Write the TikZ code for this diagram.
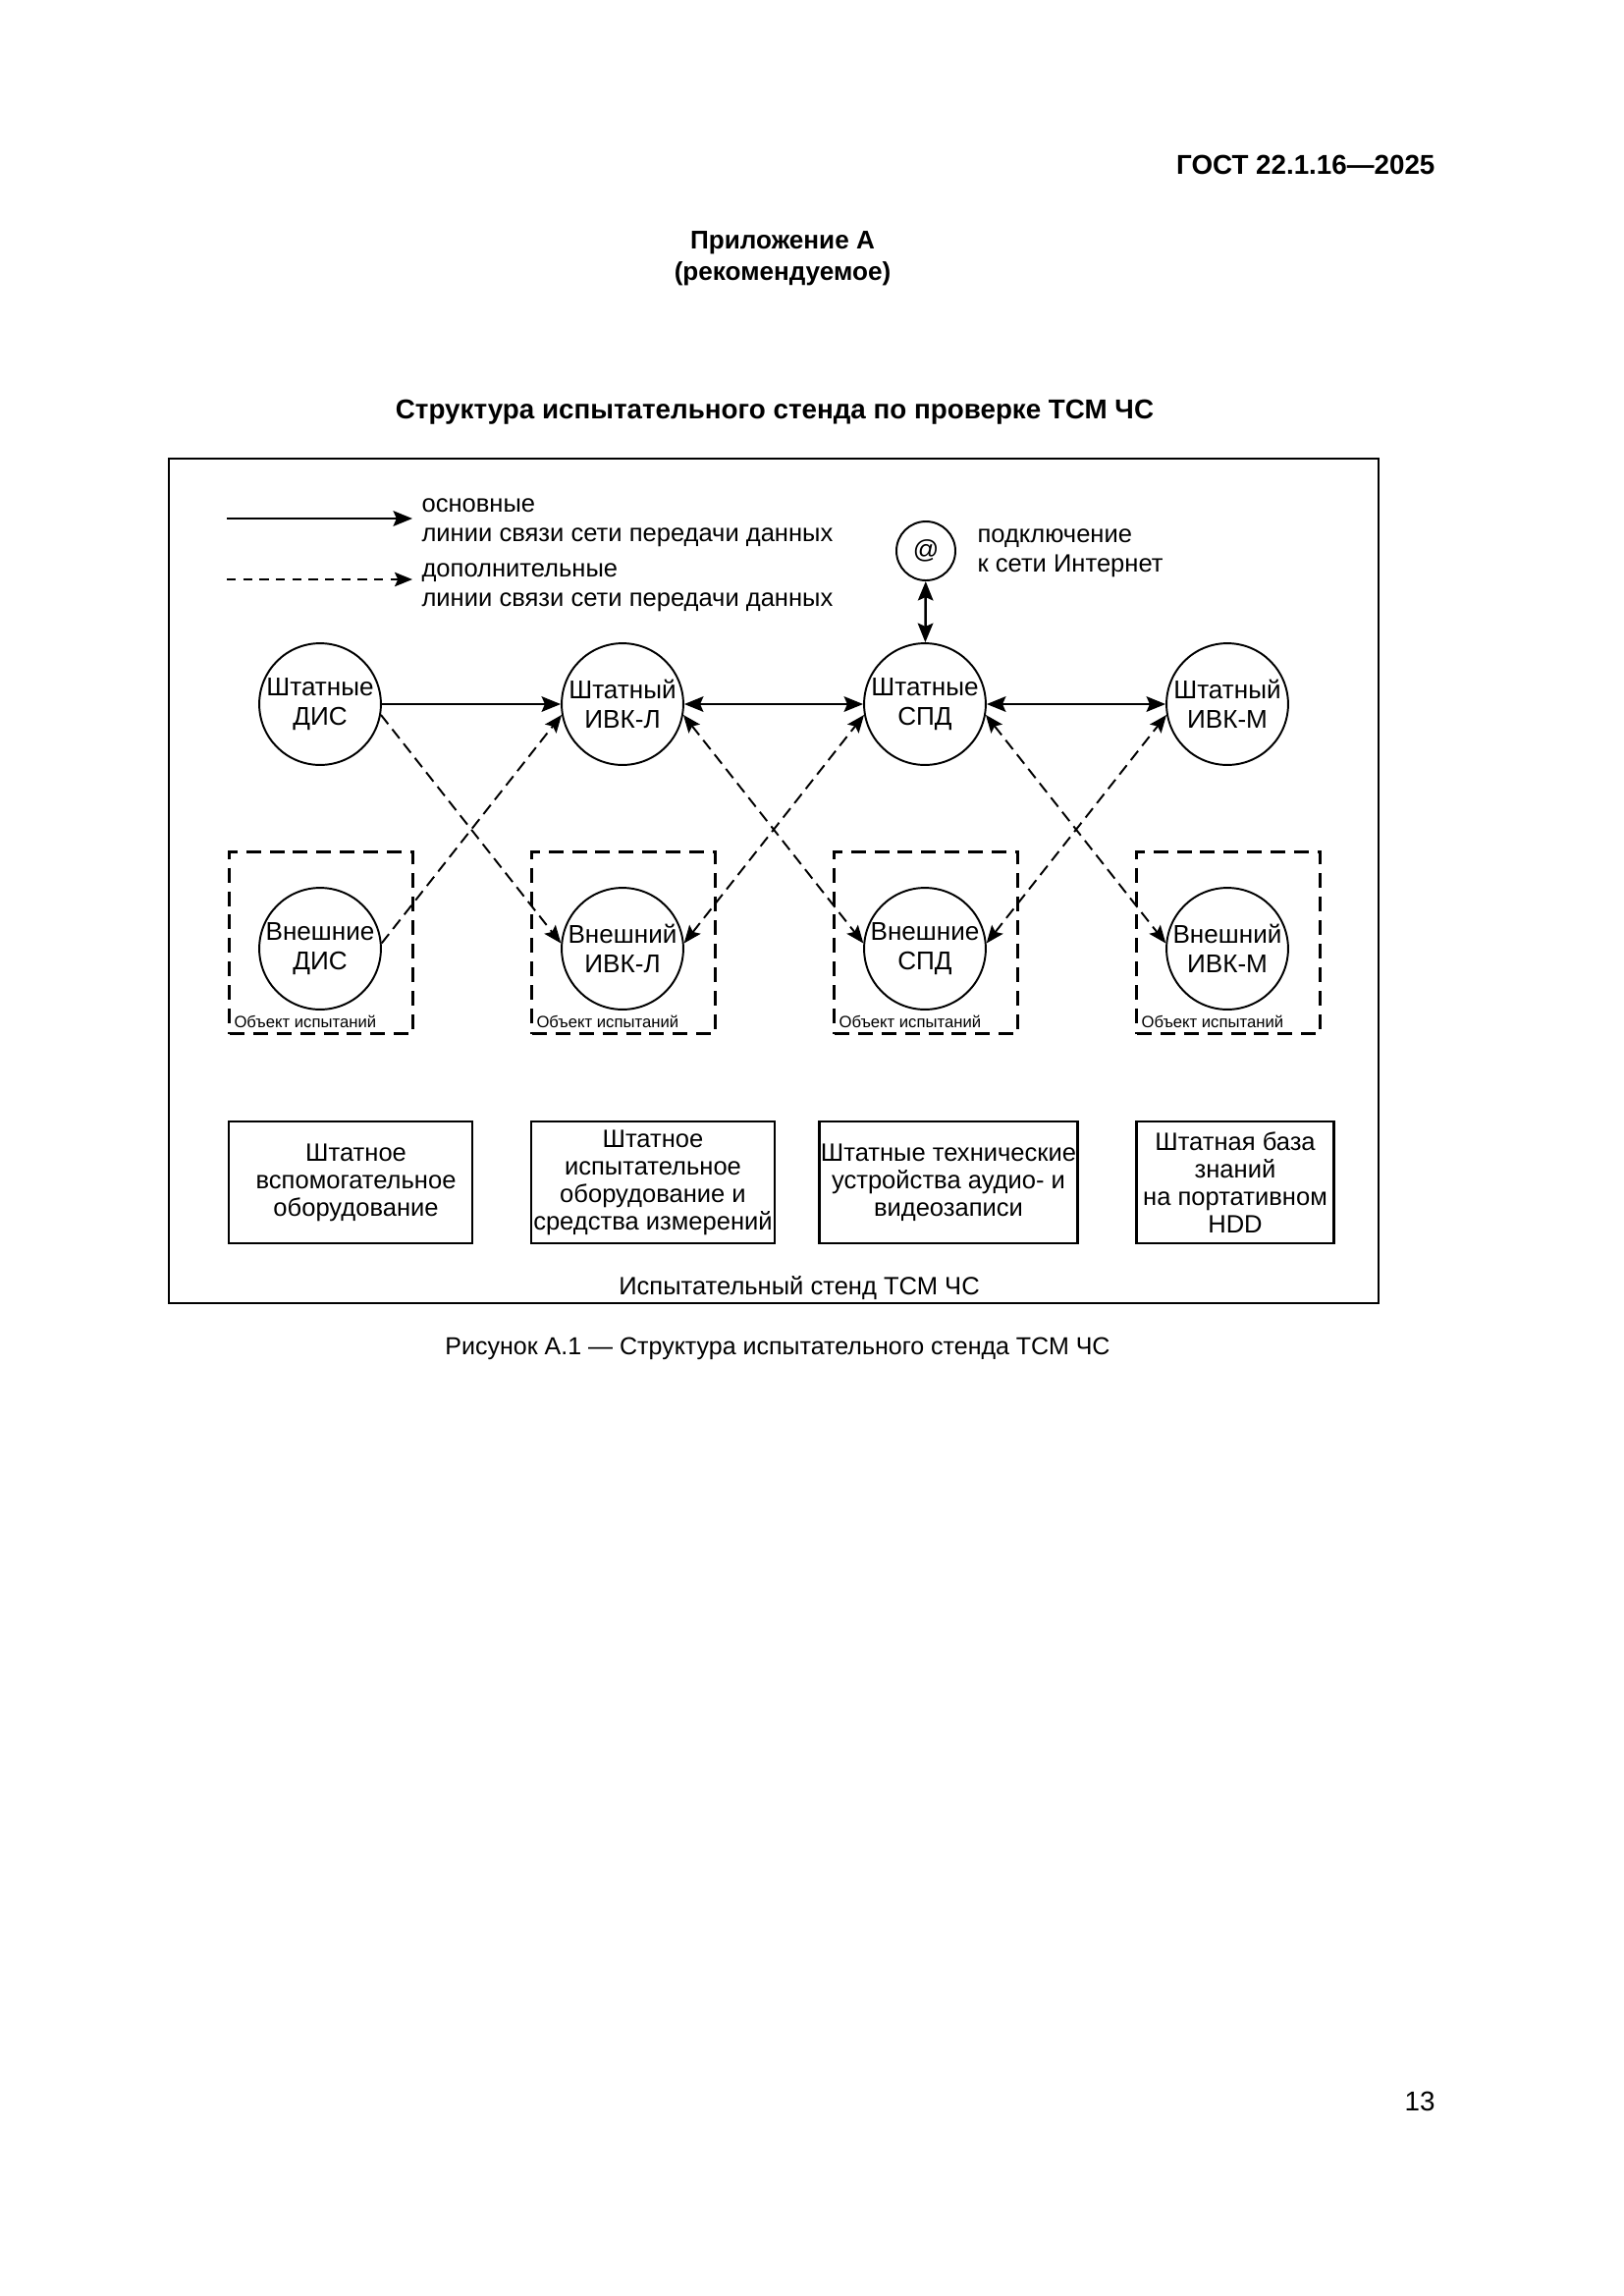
\documentclass[tikz,border=0pt]{standalone}
\usepackage{fontspec}
\setmainfont{Liberation Sans}
\usetikzlibrary{arrows.meta}
\begin{document}
\begin{tikzpicture}[x=0.36pt,y=-0.36pt,
  every node/.style={inner sep=0pt},
  txt/.style={font=\fontsize{9.2}{10.8}\selectfont, align=left},
  circ/.style={circle, draw, line width=0.7pt, minimum size=44.6pt, align=center,
    font=\fontsize{9.4}{10.6}\selectfont, execute at begin node={\rule{0pt}{10.6pt}}},
  atcirc/.style={circle, draw, line width=0.7pt, minimum size=21.6pt,
    font=\fontsize{9.4}{10.6}\selectfont},
  objbox/.style={draw, line width=1.1pt, dash pattern=on 5.4pt off 3.2pt,
    minimum width=67pt, minimum height=66.6pt},
  objlabel/.style={font=\fontsize{6}{7}\selectfont, anchor=base west},
  eqbox/.style={draw, line width=0.8pt, minimum height=44.6pt, align=center,
    font=\fontsize{9.2}{10.1}\selectfont},
  mainline/.style={line width=0.9pt, -{Stealth[length=7pt,width=5.6pt,inset=1.2pt]}},
  mainboth/.style={line width=0.9pt, {Stealth[length=7pt,width=5.6pt,inset=1.2pt]}-{Stealth[length=7pt,width=5.6pt,inset=1.2pt]}},
  auxline/.style={line width=0.7pt, dash pattern=on 4.3pt off 2.4pt, -{Stealth[length=6.5pt,width=5.2pt,inset=1.2pt]}},
  auxboth/.style={line width=0.7pt, dash pattern=on 4.3pt off 2.4pt, {Stealth[length=6.5pt,width=5.2pt,inset=1.2pt]}-{Stealth[length=6.5pt,width=5.2pt,inset=1.2pt]}},
  legdash/.style={line width=0.7pt, dash pattern=on 3.4pt off 2.6pt, -{Stealth[length=6.5pt,width=5.2pt,inset=1.2pt]}},
  headb/.style={font=\fontsize{10}{12}\selectfont\bfseries},
  appb/.style={font=\fontsize{9.4}{12}\selectfont\bfseries},
  headr/.style={font=\fontsize{10}{12}\selectfont},
  capr/.style={font=\fontsize{9}{11}\selectfont}
]
\useasboundingbox (0,0) rectangle (1653,2338);
\fill[white] (0,0) rectangle (1653,2338);

% page texts
\node[headb, anchor=east] (gost) at (1462,168) {ГОСТ 22.1.16—2025};
\node[appb] (app) at (797,247) {Приложение А};
\node[appb] (rec) at (797,279) {(рекомендуемое)};
\node[headb] (title) at (789,420) {Структура испытательного стенда по проверке ТСМ ЧС};
\node[capr] (caption) at (792,1373) {Рисунок А.1 — Структура испытательного стенда ТСМ ЧС};
\node[headr, anchor=east] (pnum) at (1462,2140) {13};

% frame
\node[draw, line width=0.8pt, minimum width=443.5pt, minimum height=309.6pt] (stand) at (788,897) {};
\node[txt] (standlabel) at (814,1312) {Испытательный стенд ТСМ ЧС};

% legend
\coordinate (legA1) at (231,528);
\coordinate (legA2) at (420,528);
\coordinate (legB1) at (231,590);
\coordinate (legB2) at (420,590);
\draw[mainline] (legA1) -- (legA2);
\draw[legdash] (legB1) -- (legB2);
\node[txt, anchor=west] (legAt) at (429,532) {основные\\линии связи сети передачи данных};
\node[txt, anchor=west] (legBt) at (429,598) {дополнительные\\линии связи сети передачи данных};

% internet
\node[atcirc] (at) at (943,561) {@};
\node[txt, anchor=west] (att) at (995,563) {подключение\\к сети Интернет};

% top circles
\node[circ] (sDIS) at (326,717) {Штатные\\ДИС};
\node[circ] (sIVKL) at (634,717) {Штатный\\ИВК-Л};
\node[circ] (sSPD) at (942,717) {Штатные\\СПД};
\node[circ] (sIVKM) at (1250,717) {Штатный\\ИВК-М};

% object boxes
\node[objbox] (oA) at (327,960) {};
\node[objbox] (oB) at (635,960) {};
\node[objbox] (oC) at (943,960) {};
\node[objbox] (oD) at (1251,960) {};
\node[objlabel] (oAl) at ([xshift=2pt,yshift=2.8pt]oA.south west) {Объект испытаний};
\node[objlabel] (oBl) at ([xshift=2pt,yshift=2.8pt]oB.south west) {Объект испытаний};
\node[objlabel] (oCl) at ([xshift=2pt,yshift=2.8pt]oC.south west) {Объект испытаний};
\node[objlabel] (oDl) at ([xshift=2pt,yshift=2.8pt]oD.south west) {Объект испытаний};

% lower circles
\node[circ] (eDIS) at (326,966) {Внешние\\ДИС};
\node[circ] (eIVKL) at (634,966) {Внешний\\ИВК-Л};
\node[circ] (eSPD) at (942,966) {Внешние\\СПД};
\node[circ] (eIVKM) at (1250,966) {Внешний\\ИВК-М};

% main connectors
\draw[mainline] (sDIS) -- (sIVKL);
\draw[mainboth] (sIVKL) -- (sSPD);
\draw[mainboth] (sSPD) -- (sIVKM);
\draw[mainboth] (at) -- (sSPD);

% auxiliary connectors
\draw[auxline] (sDIS.-10) -- (eIVKL.175);
\draw[auxline] (eDIS.5) -- (sIVKL.190);
\draw[auxboth] (sIVKL.-10) -- (eSPD.175);
\draw[auxboth] (eIVKL.5) -- (sSPD.190);
\draw[auxboth] (sSPD.-10) -- (eIVKM.175);
\draw[auxboth] (eSPD.5) -- (sIVKM.190);

% equipment boxes
\node[eqbox, minimum width=89.3pt] (b1) at (357,1204) {\hspace*{4pt}Штатное\\\hspace*{4pt}вспомогательное\\\hspace*{4pt}оборудование};
\node[eqbox, minimum width=89.3pt] (b2) at (665,1204) {Штатное\\испытательное\\оборудование и\\средства измерений};
\node[eqbox, minimum width=94.7pt] (b3) at (966,1204) {Штатные технические\\устройства аудио- и\\видеозаписи};
\node[eqbox, minimum width=72.4pt] (b4) at (1258,1204) {Штатная база\\знаний\\на портативном\\HDD};
\end{tikzpicture}
\end{document}
